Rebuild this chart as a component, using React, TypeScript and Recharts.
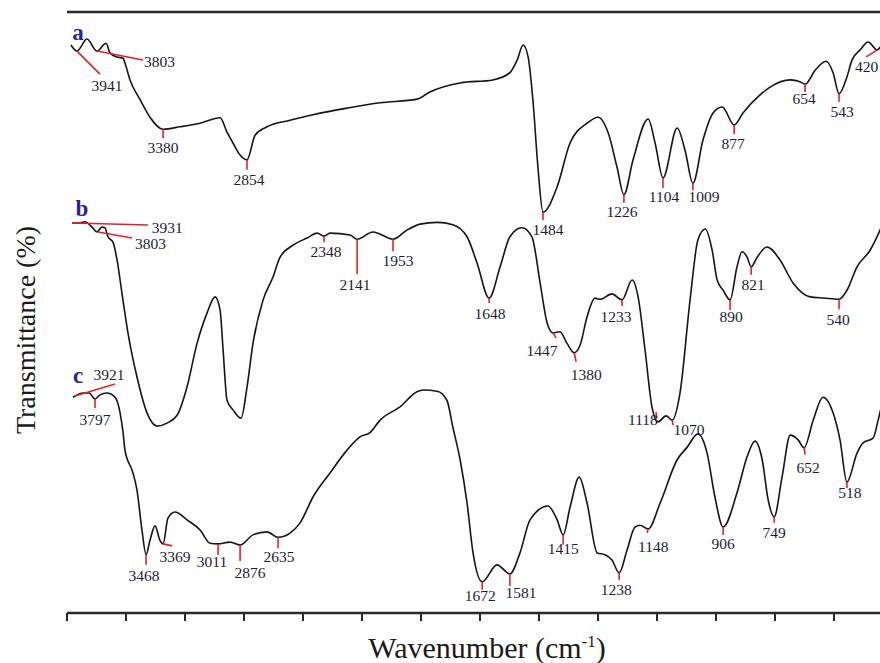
import { ComposedChart, Line, XAxis, YAxis, ReferenceLine } from 'recharts'

// wavenumber (cm-1), transmittance (offset, arbitrary %)
const SERIES_A = [
  [3975, 94.5], [3937, 93.5], [3873, 95.5], [3810, 93.5], [3752, 94.8], [3727, 93.2], [3682, 92.5],
  [3644, 92.3], [3632, 91.5], [3600, 88.7], [3536, 85.4], [3473, 82.5], [3390, 80.5], [3282, 80.9],
  [3155, 81.5], [3028, 82.4], [2984, 80.0], [2946, 78.2], [2901, 76.2], [2857, 75.4], [2806, 79.5],
  [2730, 80.9], [2584, 82.0], [2438, 82.9], [2222, 84.0], [2012, 84.9], [1889, 85.5], [1848, 86.7],
  [1752, 88.2], [1648, 88.7], [1594, 89.9], [1571, 92.0], [1552, 94.5], [1536, 92.5], [1521, 85.4],
  [1505, 74.2], [1489, 66.7], [1444, 70.9], [1403, 78.2], [1349, 81.5], [1314, 82.5], [1282, 79.9],
  [1254, 74.2], [1232, 69.6], [1203, 75.4], [1155, 82.2], [1133, 78.2], [1108, 72.4], [1063, 80.7],
  [1038, 77.0], [1013, 71.5], [981, 78.7], [949, 83.2], [920, 84.2], [882, 81.2], [854, 83.2],
  [800, 86.2], [768, 87.5], [704, 88.7], [673, 88.4], [657, 88.0], [625, 90.3], [590, 91.8],
  [568, 89.9], [549, 86.4], [524, 89.2], [508, 92.0], [482, 93.7], [457, 95.0], [428, 93.7], [409, 95.0],
]

const SERIES_B = [
  [3968, 64.9], [3917, 64.9], [3886, 65.1], [3841, 64.2], [3810, 63.4], [3778, 64.2], [3759, 64.1],
  [3740, 62.6], [3708, 61.7], [3682, 58.7], [3651, 53.2], [3613, 46.6], [3556, 39.3], [3492, 33.3],
  [3428, 31.1], [3365, 31.6], [3301, 32.9], [3238, 37.6], [3174, 44.9], [3111, 49.9], [3060, 52.6],
  [3028, 50.4], [3009, 43.8], [2984, 35.4], [2946, 33.8], [2895, 32.4], [2857, 37.6], [2819, 44.9],
  [2755, 52.1], [2692, 55.9], [2647, 59.2], [2565, 61.2], [2476, 62.4], [2412, 63.2], [2368, 62.7],
  [2330, 63.2], [2203, 62.9], [2158, 62.2], [2057, 63.4], [1965, 62.2], [1921, 63.7], [1879, 64.7],
  [1825, 65.0], [1775, 64.6], [1730, 62.6], [1698, 58.2], [1660, 52.4], [1625, 57.6], [1594, 62.6],
  [1556, 64.1], [1524, 62.6], [1498, 54.9], [1476, 48.3], [1457, 46.6], [1435, 46.8], [1413, 44.9],
  [1390, 43.3], [1371, 44.6], [1349, 49.3], [1324, 52.4], [1308, 52.2], [1270, 53.1], [1238, 52.1],
  [1206, 55.4], [1187, 52.6], [1165, 43.8], [1143, 34.3], [1124, 31.8], [1098, 32.8], [1079, 32.1],
  [1054, 36.6], [1022, 52.1], [997, 62.1], [974, 63.9], [952, 60.4], [936, 55.4], [917, 53.7],
  [895, 52.1], [873, 57.6], [857, 60.1], [841, 59.2], [828, 57.6], [809, 59.2], [778, 60.9],
  [736, 58.7], [695, 54.9], [641, 52.6], [597, 52.4], [549, 52.2], [524, 53.7], [492, 57.6],
  [450, 60.4], [419, 63.7], [400, 66.2],
]

const SERIES_C = [
  [3962, 35.9], [3898, 36.6], [3860, 36.6], [3822, 35.6], [3790, 36.3], [3746, 36.6], [3695, 35.9],
  [3663, 33.3], [3644, 30.0], [3632, 27.1], [3581, 23.3], [3556, 20.5], [3524, 13.8], [3498, 9.7],
  [3473, 12.1], [3441, 14.5], [3410, 12.1], [3390, 11.5], [3359, 15.8], [3314, 16.8], [3238, 15.5],
  [3155, 13.8], [3092, 11.6], [3041, 11.5], [2965, 11.8], [2901, 11.3], [2819, 13.0], [2730, 13.5],
  [2660, 12.6], [2584, 13.3], [2520, 15.0], [2438, 19.3], [2330, 23.3], [2222, 27.1], [2140, 29.3],
  [2076, 30.0], [2012, 32.1], [1943, 34.3], [1889, 36.8], [1870, 37.1], [1825, 36.9], [1794, 35.4],
  [1775, 30.9], [1752, 25.5], [1730, 18.3], [1711, 10.0], [1682, 5.2], [1635, 8.0], [1594, 6.5],
  [1562, 10.0], [1530, 15.5], [1473, 17.8], [1444, 15.5], [1425, 13.0], [1403, 17.6], [1374, 22.6],
  [1349, 18.3], [1317, 10.0], [1292, 9.7], [1270, 8.8], [1247, 6.7], [1222, 10.5], [1197, 14.3],
  [1181, 14.6], [1155, 14.0], [1117, 18.3], [1063, 25.5], [1031, 27.6], [997, 29.8], [968, 26.6],
  [943, 19.3], [917, 14.3], [873, 20.0], [841, 26.0], [816, 28.6], [793, 25.5], [774, 18.8],
  [755, 16.0], [730, 22.6], [704, 29.6], [679, 28.8], [660, 27.5], [631, 32.1], [600, 35.9],
  [568, 33.3], [546, 28.8], [524, 21.8], [492, 26.6], [473, 28.3], [441, 29.1], [425, 32.1], [406, 36.3],
]

// marked bands: label, position on curve (cm-1), transmittance
const PEAKS_A = [
  ['3941', 3937, 93.5], ['3803', 3810, 93.5], ['3380', 3390, 80.5], ['2854', 2857, 75.4],
  ['1484', 1489, 66.7], ['1226', 1232, 69.6], ['1104', 1108, 72.4], ['1009', 1013, 71.5],
  ['877', 882, 81.2], ['654', 657, 88.0], ['543', 549, 86.4], ['420', 428, 93.7],
]
const PEAKS_B = [
  ['3931', 3931, 64.9], ['3803', 3803, 63.4], ['2348', 2368, 62.7], ['2141', 2158, 62.2],
  ['1953', 1965, 62.2], ['1648', 1660, 52.4], ['1447', 1457, 46.6], ['1380', 1390, 43.3],
  ['1233', 1238, 52.1], ['1118', 1124, 31.8], ['1070', 1079, 32.1], ['890', 895, 52.1],
  ['821', 828, 57.6], ['540', 549, 52.2],
]
const PEAKS_C = [
  ['3921', 3949, 36.1], ['3797', 3822, 35.6], ['3468', 3498, 9.7], ['3369', 3390, 11.5],
  ['3011', 3041, 11.5], ['2876', 2901, 11.3], ['2635', 2660, 12.6], ['1672', 1682, 5.2],
  ['1581', 1594, 6.5], ['1415', 1425, 13.0], ['1238', 1247, 6.7], ['1148', 1155, 14.0],
  ['906', 917, 14.3], ['749', 755, 16.0], ['652', 660, 27.5], ['518', 524, 21.8],
]

const CURVE_NAMES = ['a', 'b', 'c']

// leader line and text placement, px relative to the marked point
// [x1, y1, x2, y2, textX, textY, anchor]
const LAYOUT: Record<string, [number, number, number, number, number, number, string?]> = {
  'a-3941': [0, 0, 23, 23, 30, 35],
  'a-3803': [0, 0, 46, 9, 47, 11, 'start'],
  'a-3380': [0, 0, 0, 9, 0, 19],
  'a-2854': [0, 0, 0, 10, 2, 20],
  'a-1484': [0, 0, 0, 8, 5, 18],
  'a-1226': [0, 0, 0, 8, -2, 17],
  'a-1104': [0, 0, 0, 10, 1, 19],
  'a-1009': [0, 0, 0, 7, 11, 14],
  'a-877': [0, 0, 0, 9, -1, 19],
  'a-654': [0, 0, 0, 8, -1, 15],
  'a-543': [0, 0, 0, 8, 3, 18],
  'a-420': [0, 0, -11, 7, 1, 17, 'end'],
  'b-3931': [-5, 0, 70, 2, 74, 5, 'start'],
  'b-3803': [0, 0, 34, 6, 37, 12, 'start'],
  'b-2348': [0, 0, 0, 6, 2, 16],
  'b-2141': [0, 0, 0, 35, -2, 46],
  'b-1953': [0, 0, 0, 12, 5, 22],
  'b-1648': [0, 0, 0, 5, 1, 16],
  'b-1447': [0, 0, 3, 5, -11, 18],
  'b-1380': [0, 0, 2, 9, 12, 22],
  'b-1233': [0, 0, 0, 6, -6, 17],
  'b-1118': [-1, -4, -2, -10, -15, -2],
  'b-1070': [0, 0, 1, 5, 17, 10],
  'b-890': [0, 0, 0, 10, 1, 17],
  'b-821': [0, 0, 0, 8, 2, 18],
  'b-540': [0, 0, 0, 10, -1, 21],
  'c-3921': [0, 0, 40, -12, 34, -21],
  'c-3797': [0, 0, 0, 9, 0, 21],
  'c-3468': [0, 0, 0, 10, -2, 21],
  'c-3369': [0, 0, 9, 2, 12, 13],
  'c-3011': [0, 0, 0, 11, -6, 18],
  'c-2876': [0, 0, 0, 16, 10, 28],
  'c-2635': [0, 0, 0, 11, 1, 20],
  'c-1672': [0, 0, 0, 8, -2, 14],
  'c-1581': [0, 0, 0, 12, 11, 19],
  'c-1415': [0, 0, 0, 10, 0, 14],
  'c-1238': [0, 0, 0, 7, -3, 17],
  'c-1148': [0, 0, -1, 4, 5, 18],
  'c-906': [0, 0, 0, 8, 0, 17],
  'c-749': [0, 0, 0, 6, 0, 16],
  'c-652': [0, 0, 1, 7, 4, 20],
  'c-518': [0, 0, 0, 6, 3, 11],
}

// the axis is drawn at half scale above 2000 cm-1
const toAxis = (w: number) => (w >= 2000 ? (4000 - w) / 2 : 1000 + (2000 - w))
const AXIS_MAX = toAxis(400)
const TICK_STEP = 187.3
const TICKS = Array.from({ length: 14 }, (_, i) => i * TICK_STEP)

const SERIF = "'Liberation Serif', 'Times New Roman', serif"
const AXIS_COLOR = '#2a2a2a'

const toPoints = (rows: number[][]) => rows.map(([w, t]) => ({ w, t }))
const toPeaks = (rows: (string | number)[][]) =>
  rows.map(([label, w, t]) => ({ label: label as string, w: w as number, t: t as number }))

const curves = [SERIES_A, SERIES_B, SERIES_C].map(toPoints)
const peaks = [PEAKS_A, PEAKS_B, PEAKS_C].map(toPeaks)

function makeMarker(curve: string) {
  return (props: any) => {
    const { cx, cy, payload, index } = props
    const key = `${curve}-${payload.label}`
    const [x1, y1, x2, y2, tx, ty, anchor] = LAYOUT[key] || [0, 0, 0, 8, 0, 18]
    return (
      <g key={`${key}-${index}`}>
        <line x1={cx + x1} y1={cy + y1} x2={cx + x2} y2={cy + y2} stroke="#e3212b" strokeWidth={1.6} />
        <text
          x={cx + tx}
          y={cy + ty + 5}
          textAnchor={anchor || 'middle'}
          fontFamily={SERIF}
          fontSize={15.5}
          fill="#1d1d33"
        >
          {payload.label}
        </text>
      </g>
    )
  }
}

const curveTags = [
  { name: 'a', left: 78, top: 40 },
  { name: 'b', left: 82, top: 216 },
  { name: 'c', left: 78, top: 383 },
]

export default function App() {
  return (
    <div style={{ position: 'absolute', left: 0, top: 0, width: 880, height: 663, overflow: 'hidden', background: '#fff' }}>
      <ComposedChart width={900} height={663} margin={{ top: 12, right: 14, bottom: 20, left: 67 }}>
        <XAxis
          type="number"
          dataKey={(d: any) => toAxis(d.w)}
          domain={[0, AXIS_MAX]}
          ticks={TICKS}
          allowDataOverflow
          tickFormatter={() => ''}
          tickSize={8}
          height={30}
          axisLine={{ stroke: AXIS_COLOR, strokeWidth: 2.5 }}
          tickLine={{ stroke: AXIS_COLOR, strokeWidth: 2 }}
        />
        <YAxis
          type="number"
          domain={[0, 100]}
          width={0}
          tick={false}
          tickLine={false}
          axisLine={{ stroke: AXIS_COLOR, strokeWidth: 2.5 }}
        />
        <ReferenceLine y={100} stroke={AXIS_COLOR} strokeWidth={2.5} />
        {curves.map((data, i) => (
          <Line
            key={`curve-${i}`}
            data={data}
            dataKey="t"
            type="monotone"
            stroke="#151515"
            strokeWidth={1.6}
            dot={false}
            activeDot={false}
            isAnimationActive={false}
          />
        ))}
        {peaks.map((data, i) => (
          <Line
            key={`peaks-${i}`}
            data={data}
            dataKey="t"
            stroke="none"
            dot={makeMarker(CURVE_NAMES[i])}
            activeDot={false}
            isAnimationActive={false}
          />
        ))}
      </ComposedChart>
      {curveTags.map((c) => (
        <div
          key={c.name}
          style={{
            position: 'absolute',
            left: c.left,
            top: c.top - 19,
            transform: 'translateX(-50%)',
            fontFamily: SERIF,
            fontWeight: 'bold',
            fontSize: 23,
            lineHeight: '23px',
            color: '#2b1ea6',
          }}
        >
          {c.name}
        </div>
      ))}
      <div
        style={{
          position: 'absolute',
          left: 26,
          top: 330,
          transform: 'translate(-50%, -50%) rotate(-90deg)',
          whiteSpace: 'nowrap',
          fontFamily: SERIF,
          fontSize: 28,
          lineHeight: '28px',
          color: '#1a1a1a',
        }}
      >
        Transmittance (%)
      </div>
      <div
        style={{
          position: 'absolute',
          left: 487,
          top: 633,
          transform: 'translateX(-50%)',
          whiteSpace: 'nowrap',
          fontFamily: SERIF,
          fontSize: 30,
          lineHeight: '30px',
          color: '#1a1a1a',
        }}
      >
        Wavenumber (cm<span style={{ fontSize: 17, verticalAlign: 'top', lineHeight: '17px' }}>-1</span>)
      </div>
    </div>
  )
}
